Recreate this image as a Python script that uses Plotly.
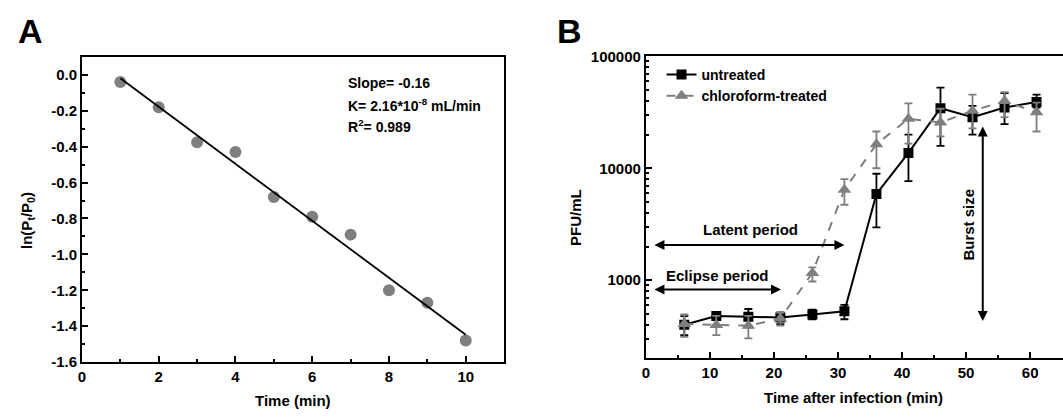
import numpy as np
import plotly.graph_objects as go

# ---------------- Panel A data ----------------
time_a = [1, 2, 3, 4, 5, 6, 7, 8, 9, 10]
ln_ratio = [-0.04, -0.18, -0.375, -0.43, -0.68, -0.79, -0.89, -1.20, -1.27, -1.48]
a_yticks = [0.0, -0.2, -0.4, -0.6, -0.8, -1.0, -1.2, -1.4, -1.6]
a_yticktext = ["0.0", "-0.2", "-0.4", "-0.6", "-0.8", "-1.0", "-1.2", "-1.4", "-1.6"]
a_xticks = [0, 2, 4, 6, 8, 10]

# ---------------- Panel B data ----------------
time_b = [6, 11, 16, 21, 26, 31, 36, 41, 46, 51, 56, 61]
untreated = [400, 480, 472, 464, 494, 528, 5900, 13700, 34400, 28600, 34900, 39000]
untreated_hi = [478, 510, 553, 517, 546, 603, 8930, 19950, 52500, 36000, 46900, 45400]
untreated_lo = [323, 448, 380, 406, 448, 448, 2960, 7690, 15850, 19950, 24800, 34900]
chloro = [406, 398, 393, 454, 1163, 6440, 16380, 27700, 25600, 32600, 39800, 31600]
chloro_hi = [494, 480, 480, 510, 1300, 8000, 21300, 38000, 34000, 45400, 47800, 38500]
chloro_lo = [312, 323, 302, 393, 974, 4720, 10000, 16600, 19300, 22700, 28600, 21300]
b_yticks = [1000, 10000, 100000]
b_yticktext = ["1000", "10000", "100000"]
b_xticks = [0, 10, 20, 30, 40, 50, 60]

W, H = 1063, 418
FONT = "Liberation Sans, Arial, sans-serif"
GRAY = "#7f7f7f"

def px_x(p):
    return p / W

def px_y(p):
    return 1 - p / H

fig = go.Figure()

# Panel A
fig.add_trace(go.Scatter(x=time_a, y=ln_ratio, mode="markers",
                         marker=dict(color=GRAY, size=12),
                         xaxis="x", yaxis="y", showlegend=False))
coef = np.polyfit(time_a, ln_ratio, 1)
fit_x = [min(time_a), max(time_a)]
fit_y = list(np.polyval(coef, fit_x))
fig.add_trace(go.Scatter(x=fit_x, y=fit_y, mode="lines",
                         line=dict(color="black", width=1.8),
                         xaxis="x", yaxis="y", showlegend=False))

# Panel B
u = np.array(untreated, float)
c = np.array(chloro, float)
fig.add_trace(go.Scatter(
    x=time_b, y=untreated, mode="lines+markers", name="untreated",
    line=dict(color="black", width=2),
    marker=dict(symbol="square", size=10, color="black"),
    error_y=dict(type="data", symmetric=False,
                 array=list(np.array(untreated_hi) - u),
                 arrayminus=list(u - np.array(untreated_lo)),
                 color="black", thickness=1.8, width=4),
    xaxis="x2", yaxis="y2"))
fig.add_trace(go.Scatter(
    x=time_b, y=chloro, mode="lines+markers", name="chloroform-treated",
    line=dict(color=GRAY, width=2, dash="dash"),
    marker=dict(symbol="triangle-up", size=12, color=GRAY),
    error_y=dict(type="data", symmetric=False,
                 array=list(np.array(chloro_hi) - c),
                 arrayminus=list(c - np.array(chloro_lo)),
                 color=GRAY, thickness=1.8, width=4),
    xaxis="x2", yaxis="y2"))

tickfont = dict(family=FONT, size=15, color="black", weight="bold")
axis_common = dict(showline=True, linecolor="black", linewidth=2,
                   ticks="inside", ticklen=6, tickwidth=2, tickcolor="black",
                   showgrid=False, zeroline=False, tickfont=tickfont)

fig.update_layout(
    width=W, height=H,
    margin=dict(l=0, r=0, t=0, b=0),
    paper_bgcolor="white", plot_bgcolor="white",
    font=dict(family=FONT, color="black"),
    xaxis=dict(domain=[px_x(78.3), px_x(502)], range=[0, 11],
               tickvals=a_xticks, mirror=True,
               minor=dict(ticks="inside", ticklen=3, tickwidth=2, dtick=1, tickcolor="black"),
               anchor="y", **axis_common),
    yaxis=dict(domain=[px_y(368), px_y(50)], range=[-1.6, 0.1],
               tickvals=a_yticks, ticktext=a_yticktext, mirror=True,
               minor=dict(ticks="inside", ticklen=3, tickwidth=2, dtick=0.1, tickcolor="black"),
               anchor="x", **axis_common),
    xaxis2=dict(domain=[px_x(644.3), 1.0], range=[0, 65.13],
                tickvals=b_xticks, mirror=True,
                minor=dict(ticks="inside", ticklen=3, tickwidth=2, dtick=5, tickcolor="black"),
                anchor="y2", **axis_common),
    yaxis2=dict(domain=[px_y(364.3), px_y(49.3)], type="log",
                range=[np.log10(200), 5],
                tickvals=b_yticks, ticktext=b_yticktext, mirror=False,
                minor=dict(ticks="inside", ticklen=3, tickwidth=2, tickcolor="black",
                           tickvals=[m * 10 ** e for e in (2, 3, 4) for m in range(2, 10)]),
                anchor="x2", **axis_common),
    legend=dict(x=px_x(660), y=px_y(52), xanchor="left", yanchor="top",
                bgcolor="rgba(0,0,0,0)", borderwidth=0,
                font=dict(family=FONT, size=14, color="black", weight="bold"),
                tracegroupgap=0, itemwidth=30),
)

bold = lambda s: dict(family=FONT, size=s, color="black", weight="bold")

def label(text, xp, yp, size, angle=0, xanchor="center"):
    return dict(text=text, x=px_x(xp), y=px_y(yp), xref="paper", yref="paper",
                xanchor=xanchor, yanchor="middle", textangle=angle,
                showarrow=False, font=bold(size))

ann = []
# panel letters
ann.append(label("A", 12, 23, 34, xanchor="left"))
ann.append(label("B", 553, 23, 34, xanchor="left"))
# Panel A axis titles
ann.append(label("Time (min)", 290, 408, 15))
ann.append(label("ln(P<sub>t</sub>/P<sub>0</sub>)", 23, 220, 15, angle=-90))
# Panel A stats
for txt, yp in [("Slope= -0.16", 77), ("K= 2.16*10<sup>-8</sup> mL/min", 100),
                ("R<sup>2</sup>= 0.989", 122)]:
    ann.append(label(txt, 343, yp, 14, xanchor="left"))
# Panel B axis titles
ann.append(label("Time after infection (min)", 853, 405, 15))
ann.append(label("PFU/mL", 573, 217, 15, angle=-90))

# Panel B arrows (data coords; log axis uses log10)
def dbl_arrow(x0, y0, x1, y1):
    return dict(x=x1, y=np.log10(y1), ax=x0, ay=np.log10(y0),
                xref="x2", yref="y2", axref="x2", ayref="y2",
                text="", showarrow=True, arrowhead=2, startarrowhead=2,
                arrowside="end+start", arrowsize=1, startarrowsize=1,
                arrowwidth=2, arrowcolor="black", standoff=0, startstandoff=0)

ann.append(dbl_arrow(1.1, 2060, 31.0, 2060))
ann.append(dbl_arrow(1.1, 826, 21.1, 826))
ann.append(dbl_arrow(52.6, 24300, 52.6, 433))
ann.append(dict(text="Latent period", x=16.4, y=np.log10(2825), xref="x2", yref="y2",
                xanchor="center", yanchor="middle", showarrow=False, font=bold(15)))
ann.append(dict(text="Eclipse period", x=11.25, y=np.log10(1111), xref="x2", yref="y2",
                xanchor="center", yanchor="middle", showarrow=False, font=bold(15)))
ann.append(dict(text="Burst size", x=50.4, y=np.log10(3120), xref="x2", yref="y2",
                xanchor="center", yanchor="middle", textangle=-90,
                showarrow=False, font=bold(15)))

fig.update_layout(annotations=ann)
fig.write_html("out.html", config={"displayModeBar": False},
               post_script="document.body.style.margin='0px';document.body.style.overflow='hidden';")
